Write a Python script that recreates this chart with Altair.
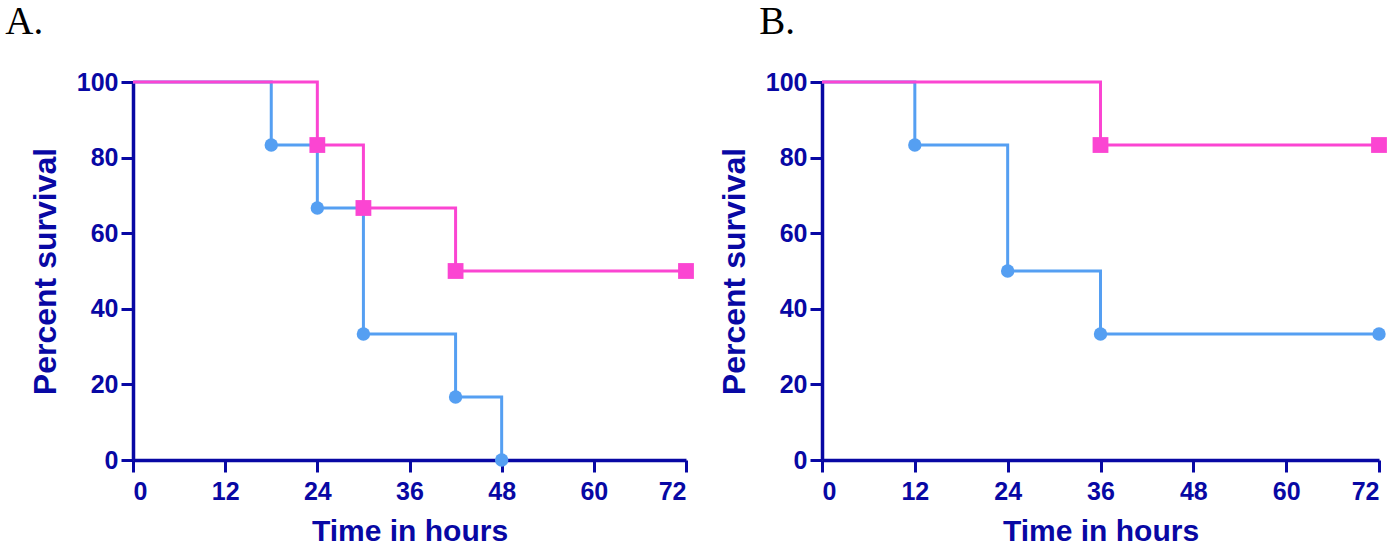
import altair as alt
import pandas as pd

# Kaplan-Meier style survival steps, time in hours vs percent survival
a_blue_t = [0, 18, 24, 30, 42, 48]
a_blue_s = [100, 83.33, 66.67, 33.33, 16.67, 0]
a_pink_t = [0, 24, 30, 42, 72]
a_pink_s = [100, 83.33, 66.67, 50, 50]

b_blue_t = [0, 12, 24, 36, 72]
b_blue_s = [100, 83.33, 50, 33.33, 33.33]
b_pink_t = [0, 36, 72]
b_pink_s = [100, 83.33, 83.33]

x_ticks = [0, 12, 24, 36, 48, 60, 72]
y_ticks = [0, 20, 40, 60, 80, 100]

NAVY = "#0808a4"
BLUE = "#559ff2"
PINK = "#fb45d2"
SANS = "Liberation Sans"


def frame(t, s):
    return pd.DataFrame({"t": t, "s": s})


def axis_common(values, title, title_size, title_pad, label_pad):
    return dict(
        values=values,
        title=title,
        grid=False,
        domainColor=NAVY,
        domainWidth=3.5,
        tickColor=NAVY,
        tickWidth=3,
        tickSize=12,
        labelFont=SANS,
        labelFontSize=25,
        labelFontWeight="bold",
        labelColor=NAVY,
        labelPadding=label_pad,
        titleFont=SANS,
        titleFontSize=title_size,
        titleFontWeight="bold",
        titleColor=NAVY,
        titlePadding=title_pad,
        zindex=0,
    )


def series(df, color, shape, size):
    x = alt.X("t:Q", scale=alt.Scale(domain=[0, 72], nice=False),
              axis=alt.Axis(**axis_common(x_ticks, "Time in hours", 30, 12, 7)))
    y = alt.Y("s:Q", scale=alt.Scale(domain=[0, 100], nice=False),
              axis=alt.Axis(**axis_common(y_ticks, "Percent survival", 32, 14, 3)))
    base = alt.Chart(df).encode(x=x, y=y)
    line = base.mark_line(interpolate="step-after", color=color, strokeWidth=3)
    pts = base.transform_filter("datum.t > 0").mark_point(
        shape=shape, filled=True, opacity=1, color=color, size=size)
    return [line, pts]


def panel(label, dx, blue_df, pink_df, w, h):
    layers = series(blue_df, BLUE, "circle", 180) + series(pink_df, PINK, "square", 250)
    return alt.layer(*layers).properties(
        width=w,
        height=h,
        title=alt.TitleParams(
            label, anchor="start", frame="bounds", font="Liberation Serif",
            fontSize=39, fontWeight="normal", color="black", dx=dx, offset=28,
        ),
    )


chart_a = panel("A.", -24, frame(a_blue_t, a_blue_s), frame(a_pink_t, a_pink_s), 553, 378)
chart_b = panel("B.", 41, frame(b_blue_t, b_blue_s), frame(b_pink_t, b_pink_s), 557, 378)

chart = alt.hconcat(chart_a, chart_b, spacing=136, bounds="flush").properties(
    padding={"left": 5, "top": 3, "right": 0, "bottom": 0}
).configure(background="white").configure_view(strokeWidth=0, stroke="transparent")

chart.save("out.html", embed_options={"renderer": "svg", "actions": False})
